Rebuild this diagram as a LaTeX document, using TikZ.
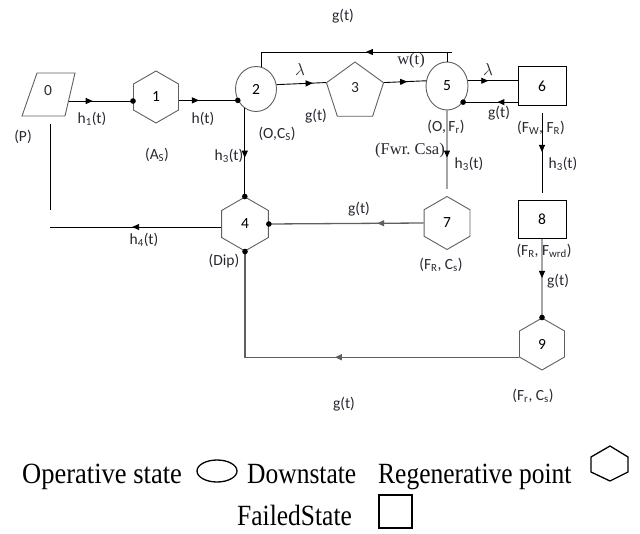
\documentclass[tikz,border=0pt]{standalone}
\usepackage{fontspec}
\setmainfont{Carlito}
\newfontfamily\tms{Liberation Serif}
\usetikzlibrary{shapes.geometric,arrows.meta,decorations.markings,calc}
\definecolor{sg}{RGB}{95,95,95}
\definecolor{tx}{RGB}{40,40,50}
\begin{document}
\begin{tikzpicture}[x=1pt,y=-1pt,
  font=\fontsize{15.5}{17}\selectfont,
  shp/.style={draw=sg, line width=0.9pt, inner sep=0pt},
  hexa/.style={shp, regular polygon, regular polygon sides=6, shape border rotate=30, minimum size=#1},
  penta/.style={shp, regular polygon, regular polygon sides=5, minimum size=60},
  ell/.style={shp, ellipse},
  boxx/.style={draw=black, line width=0.9pt, inner sep=0pt, rectangle},
  cn/.style={draw=black, line width=0.9pt},
  cng/.style={draw=sg, line width=1.3pt},
  arr/.style={postaction={decorate}, decoration={markings, mark=at position #1 with {\arrow{Triangle[length=7pt,width=6pt]}}}},
  lbl/.style={inner sep=0pt, text=tx},
  lgd/.style={inner sep=0pt, font=\tms\fontsize{25.5}{28}\selectfont, anchor=base west},
  dotr/.style={fill=black}
]
\useasboundingbox (0,0) rectangle (640,533);

% ---- states ----
\coordinate (p0a) at (37,73);
\coordinate (p0b) at (75,73);
\coordinate (p0c) at (65,116);
\coordinate (p0d) at (22,116);
\draw[shp] (p0a) -- (p0b) -- (p0c) -- (p0d) -- cycle;
\node[lbl] (n0) at (48,91) {0};
\coordinate (o0) at (69,101);

\node[hexa=52] (n1) at (156,97) {1};
\node[ell, minimum width=41, minimum height=45] (n2) at (256,89) {2};
\node[penta] (n3) at (355,92) {};
\node[lbl] (t3) at (355,88) {3};
\node[ell, minimum width=42, minimum height=48] (n5) at (447,86) {5};
\node[boxx, minimum width=48, minimum height=39] (n6) at (542,86) {6};
\node[hexa=54] (n4) at (245,224) {4};
\node[hexa=53] (n7) at (447,223) {7};
\node[boxx, minimum width=48, minimum height=38] (n8) at (542,219) {8};
\node[hexa=52] (n9) at (542,344) {9};

% ---- connectors ----
\draw[cn, arr=0.37] (o0) -- (n1.west |- o0);
\fill[dotr] (n1.west |- o0) circle (2.8);

\draw[cn, arr=0.34] (n1.east |- n2.212) -- (n2.212);
\fill[dotr] (n2.212) circle (2.8);

\draw[cn, arr=0.73] (n2.12) -- (n3.corner 2);
\draw[cn, arr=0.55] (n3.corner 5) -- (n5.166);
\draw[cn, arr=0.41] (n5.14) -- (n6.west |- n5.14);
\draw[cn, arr=0.37] (n6.west |- n5.-45) -- (n5.-45);
\fill[dotr] (n5.-45) circle (2.8);

\coordinate (fb) at (452,52);
\draw[cn] (n5.north) -- (n5.north |- fb);
\draw[cn, arr=0.42] (fb) -- (n2.75 |- fb) -- (n2.75);

\draw[cn, arr=0.56] (n2.240) -- (n2.240 |- n4.north);
\fill[dotr] (n2.240 |- n4.north) circle (2.8);

\draw[cn, arr=0.6] (n5.south) -- ($(n7.north)+(0,-7)$);
\draw[cn, arr=0.49] ($(n6.south)+(0,7)$) -- ($(n8.north)+(0,-7)$);
\draw[cn, arr=0.5] (n8.south) -- (n9.north);
\fill[dotr] (n9.north) circle (2.8);

\draw[cng, arr=0.485] (n9.210) -- (n4.south |- n9.210) -- (n4.south);
\fill[dotr] (n4.south) circle (2.8);

\draw[cng, arr=0.3] (n7.west) -- (n4.east);
\fill[dotr] (n4.east) circle (2.8);

\coordinate (lf) at (50,227);
\draw[cn, arr=0.52] (n4.west |- lf) -- (lf);

\coordinate (v0a) at (50,124);
\coordinate (v0b) at (50,210);
\draw[cn] (v0a) -- (v0b);

% ---- labels ----
\node[lbl] (lg0) at (343,16) {g(t)};
\node[lbl, font=\tms\fontsize{16}{18}\selectfont] (lla) at (300,69) {$\lambda$};
\node[lbl, font=\tms\fontsize{16}{18}\selectfont] (llb) at (488,69) {$\lambda$};
\node[lbl, font=\tms\fontsize{16.5}{18}\selectfont] (lw) at (411,61) {w(t)};
\node[lbl] (lh1) at (92,119) {h\textsubscript{1}(t)};
\node[lbl] (lh) at (203,119) {h(t)};
\node[lbl] (lP) at (23,137) {(P)};
\node[lbl] (lAs) at (157,155) {(A\textsubscript{S})};
\node[lbl] (lOC) at (277,134) {(O,C\textsubscript{S})};
\node[lbl] (lh3a) at (229,156) {h\textsubscript{3}(t)};
\node[lbl] (lg3) at (316,116) {g(t)};
\node[lbl] (lOF) at (446,127) {(O,\,F\textsubscript{r})};
\node[lbl, font=\tms\fontsize{16.5}{18}\selectfont] (lFC) at (410,151) {(Fwr.\ Csa)};
\node[lbl] (lh3b) at (469,164) {h\textsubscript{3}(t)};
\node[lbl] (lg6) at (499,113) {g(t)};
\node[lbl] (lFF) at (541,128) {(F\textsubscript{W}, F\textsubscript{R})};
\node[lbl] (lh3c) at (563,164) {h\textsubscript{3}(t)};
\node[lbl] (lg74) at (359,209) {g(t)};
\node[lbl] (lF7) at (441,265) {(F\textsubscript{R}, C\textsubscript{s})};
\node[lbl] (lF8) at (544,251) {(F\textsubscript{R}, F\textsubscript{wrd})};
\node[lbl] (lg89) at (558,281) {g(t)};
\node[lbl] (lh4) at (144,240) {h\textsubscript{4}(t)};
\node[lbl] (lDip) at (224,261) {(Dip)};
\node[lbl] (lF9) at (533,396) {(F\textsubscript{r}, C\textsubscript{s})};
\node[lbl] (lg94) at (344,404) {g(t)};

% ---- legend ----
\node[lgd] (lgo) at (22,483) {\scalebox{1.04}[1.15]{Operative state}};
\node[draw=black, line width=1.3pt, ellipse, minimum width=40, minimum height=22, inner sep=0pt] (lge) at (217,471) {};
\node[lgd] (lgd) at (247,483) {\scalebox{1}[1.15]{Downstate}};
\node[lgd] (lgr) at (378,483) {\scalebox{1}[1.15]{Regenerative point}};
\draw[black, line width=1.3pt] (591,457) -- (610,446) -- (628,457) -- (628,472) -- (610,481) -- (591,472) -- cycle;
\node[lgd] (lgf) at (237,525) {\scalebox{1}[1.15]{FailedState}};
\draw[black, line width=1.3pt] (379,495) rectangle (412,528);
\end{tikzpicture}
\end{document}
